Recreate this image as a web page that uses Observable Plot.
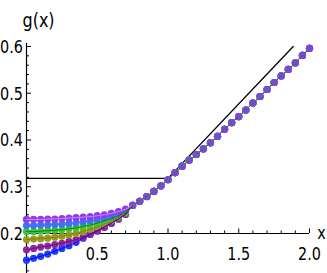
<!DOCTYPE html>
<html><head><meta charset="utf-8">
<script src="https://cdn.jsdelivr.net/npm/d3@7"></script>
<script src="https://cdn.jsdelivr.net/npm/@observablehq/plot@0.6"></script>
<style>
body{margin:0;background:#fff}
#chart svg{font-family:"DejaVu Sans",sans-serif;overflow:visible}
</style>
</head><body><div id="chart"></div>
<script>
// x grid of the sampled points
const xValues = [0,0.05,0.1,0.15,0.2,0.25,0.3,0.35,0.4,0.45,0.5,0.55,0.6,0.65,0.7,
  0.75,0.8,0.85,0.9,0.95,1.0,1.05,1.1,1.15,1.2,1.25,1.3,1.35,1.4,1.45,1.5,
  1.55,1.6,1.65,1.7,1.75,1.8,1.85,1.9,1.95,2.0];
// common tail for x = 0.75 .. 2.0
const tail = [0.260,0.269,0.279,0.290,0.302,0.315,0.330,0.344,0.357,0.369,0.381,0.394,0.408,
  0.423,0.437,0.450,0.464,0.479,0.493,0.508,0.523,0.537,0.551,0.565,0.581,0.596];
// heads for x = 0 .. 0.7
const blueHead   = [0.143,0.147,0.151,0.156,0.162,0.168,0.174,0.181,0.190,0.198,0.206,0.214,0.222,0.231,0.241];
const purpleHead = [0.165,0.168,0.171,0.173,0.176,0.179,0.183,0.187,0.192,0.198,0.205,0.213,0.222,0.231,0.241];
const oliveHead  = [0.187,0.188,0.189,0.190,0.192,0.194,0.197,0.200,0.204,0.209,0.214,0.220,0.227,0.235,0.244];
const greenHead  = [0.204,0.204,0.205,0.206,0.207,0.208,0.210,0.212,0.215,0.218,0.222,0.227,0.232,0.238,0.246];
const skyHead    = [0.217,0.217,0.218,0.218,0.219,0.220,0.221,0.223,0.225,0.227,0.230,0.233,0.237,0.242,0.249];
const violetHead = [0.230,0.230,0.230,0.231,0.231,0.232,0.233,0.234,0.235,0.236,0.238,0.240,0.243,0.247,0.252];

const seriesNames = ["blue","purple","olive","green","sky","violet"];
const seriesHeads = [blueHead,purpleHead,oliveHead,greenHead,skyHead,violetHead];
const seriesColors = ["#1f3cff","#8a2a9e","#9a9a1e","#3cc43c","#3f72ee","#8a3cf0"];

// black reference curve
const refX = [0,1,1.885];
const refY = [0.318,0.318,0.6];

const xMajor = [0.5,1.0,1.5,2.0];
const xMajorLabels = ["0.5","1.0","1.5","2.0"];
const xMinor = [0.1,0.2,0.3,0.4,0.6,0.7,0.8,0.9,1.1,1.2,1.3,1.4,1.6,1.7,1.8,1.9];
const yMajor = [0.2,0.3,0.4,0.5,0.6];
const yMajorLabels = ["0.2","0.3","0.4","0.5","0.6"];
const yMinor = [0.12,0.14,0.16,0.18,0.22,0.24,0.26,0.28,0.32,0.34,0.36,0.38,0.42,0.44,0.46,0.48,0.52,0.54,0.56,0.58];

const rows = [];
seriesNames.forEach((name,si) => {
  const ys = seriesHeads[si].concat(tail);
  xValues.forEach((x,i) => rows.push({series:name, x, y:ys[i]}));
});
const lineOrder = ["blue","purple","olive","sky","violet","green"];

const W = 327, H = 273, mL = 26, mR = 18, mT = 46, mB = 0;
const yMin = 0.1144, yMax = 0.6;
const pxY = (H - mT - mB) / (yMax - yMin);
const pxX = (W - mL - mR) / 2;
const axisY = 0.2;

const refData = refX.map((x,i)=>({x, y:refY[i]}));

const plot = Plot.plot({
  width: W, height: H,
  marginLeft: mL, marginRight: mR, marginTop: mT, marginBottom: mB,
  x: {domain:[0,2], axis:null},
  y: {domain:[yMin,yMax], axis:null},
  color: {domain: seriesNames, range: seriesColors},
  marks: [
    Plot.ruleY([axisY], {x1:0, x2:2, stroke:"black", strokeWidth:1.2}),
    Plot.ruleX([0], {y1:yMin-0.01, y2:0.607, stroke:"black", strokeWidth:1.2}),
    Plot.ruleX(xMajor, {x:d=>d, y1:axisY, y2:axisY + 4.5/pxY, stroke:"black", strokeWidth:1}),
    Plot.ruleX(xMinor, {x:d=>d, y1:axisY, y2:axisY + 2.5/pxY, stroke:"black", strokeWidth:1}),
    Plot.ruleY(yMajor, {y:d=>d, x1:0, x2:5/pxX, stroke:"black", strokeWidth:1}),
    Plot.ruleY(yMinor, {y:d=>d, x1:0, x2:3/pxX, stroke:"black", strokeWidth:1}),
    Plot.text(xMajor, {x:d=>d, y:axisY, text:(d,i)=>xMajorLabels[i], dy:21, fontSize:18, fill:"black"}),
    Plot.text(yMajor, {x:0, y:d=>d, text:(d,i)=>yMajorLabels[i], dx:-15, dy:0.5, fontSize:18, fill:"black", textAnchor:"middle"}),
    Plot.text(["x"], {x:2, y:axisY, text:d=>d, dx:12, dy:0, fontSize:18, fill:"black"}),
    Plot.text(["g(x)"], {x:0, y:yMax, text:d=>d, dx:-4, dy:-26, fontSize:20, fill:"black", textAnchor:"start"}),
    Plot.line(refData, {x:"x", y:"y", stroke:"black", strokeWidth:1.3}),
    Plot.dot(rows, {x:"x", y:"y", fill:"series", r:3.6, stroke:"none"}),
    ...lineOrder.map(name => Plot.line(rows.filter(r=>r.series===name), {x:"x", y:"y", stroke:"series", strokeWidth:0.9}))
  ]
});
document.getElementById("chart").appendChild(plot);
// narrow the glyphs to match the condensed reference lettering
plot.querySelectorAll("text").forEach(t => {
  const len = t.getComputedTextLength();
  if (len > 0) {
    t.setAttribute("textLength", (len*0.8).toFixed(1));
    t.setAttribute("lengthAdjust", "spacingAndGlyphs");
  }
});
</script>
</body></html>
